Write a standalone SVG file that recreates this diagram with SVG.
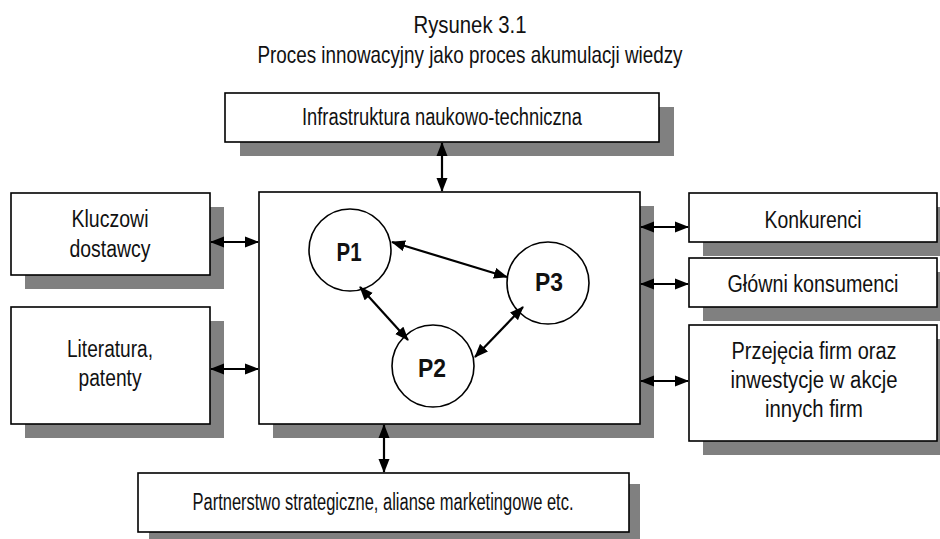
<svg xmlns="http://www.w3.org/2000/svg" width="940" height="539" viewBox="0 0 940 539">
  <style>
    .box { fill: #ffffff; stroke: #000000; stroke-width: 1.6; }
    .shadow { fill: #808080; stroke: none; }
    .circ { fill: #ffffff; stroke: #000000; stroke-width: 1.6; }
    .lbl { font-family: "Liberation Sans Narrow", "Arial Narrow", "Liberation Sans", sans-serif; font-size: 23px; fill: #111111; text-anchor: middle; }
    .ttl { font-family: "Liberation Sans Narrow", "Arial Narrow", "Liberation Sans", sans-serif; font-size: 24px; fill: #111111; text-anchor: middle; }
    .pl { font-family: "Liberation Sans Narrow", "Arial Narrow", "Liberation Sans", sans-serif; font-size: 26px; font-weight: bold; fill: #111111; text-anchor: middle; }
    .con { stroke: #000000; stroke-width: 2.2; fill: none; marker-start: url(#ah); marker-end: url(#ah); }
  </style>
  <defs>
    <marker id="ah" markerUnits="userSpaceOnUse" markerWidth="14" markerHeight="12" viewBox="0 0 14 12" refX="13" refY="6" orient="auto-start-reverse">
      <path d="M0,0.5 L14,6 L0,11.5 z" fill="#000000"/>
    </marker>
  </defs>

  <!-- title -->
  <g id="title">
    <text class="ttl" x="470" y="33" textLength="113" lengthAdjust="spacingAndGlyphs">Rysunek 3.1</text>
    <text class="ttl" x="470" y="63" textLength="425" lengthAdjust="spacingAndGlyphs">Proces innowacyjny jako proces akumulacji wiedzy</text>
  </g>

  <!-- surrounding boxes -->
  <g id="infrastruktura">
    <rect class="shadow" x="240" y="107" width="434" height="49"/>
    <rect class="box" x="225" y="93" width="434" height="49"/>
    <text class="lbl" x="442" y="125" textLength="280" lengthAdjust="spacingAndGlyphs">Infrastruktura naukowo-techniczna</text>
  </g>

  <g id="dostawcy">
    <rect class="shadow" x="25" y="207" width="199" height="82"/>
    <rect class="box" x="11" y="193" width="199" height="82"/>
    <text class="lbl" x="110" y="227" textLength="77" lengthAdjust="spacingAndGlyphs">Kluczowi</text>
    <text class="lbl" x="110" y="257" textLength="81" lengthAdjust="spacingAndGlyphs">dostawcy</text>
  </g>

  <g id="literatura">
    <rect class="shadow" x="25" y="321" width="199" height="117"/>
    <rect class="box" x="11" y="307" width="199" height="117"/>
    <text class="lbl" x="110" y="357" textLength="86" lengthAdjust="spacingAndGlyphs">Literatura,</text>
    <text class="lbl" x="110" y="386" textLength="63" lengthAdjust="spacingAndGlyphs">patenty</text>
  </g>

  <g id="konkurenci">
    <rect class="shadow" x="703" y="207" width="248" height="49"/>
    <rect class="box" x="689" y="193" width="248" height="49"/>
    <text class="lbl" x="813" y="228" textLength="97" lengthAdjust="spacingAndGlyphs">Konkurenci</text>
  </g>

  <g id="konsumenci">
    <rect class="shadow" x="703" y="272" width="248" height="49"/>
    <rect class="box" x="689" y="258" width="248" height="49"/>
    <text class="lbl" x="813" y="292" textLength="171" lengthAdjust="spacingAndGlyphs">Główni konsumenci</text>
  </g>

  <g id="przejecia">
    <rect class="shadow" x="703" y="339" width="248" height="116"/>
    <rect class="box" x="689" y="325" width="248" height="116"/>
    <text class="lbl" x="814" y="359" textLength="165" lengthAdjust="spacingAndGlyphs">Przejęcia firm oraz</text>
    <text class="lbl" x="814" y="388" textLength="167" lengthAdjust="spacingAndGlyphs">inwestycje w akcje</text>
    <text class="lbl" x="814" y="417" textLength="98" lengthAdjust="spacingAndGlyphs">innych firm</text>
  </g>

  <g id="partnerstwo">
    <rect class="shadow" x="149" y="484" width="491" height="59"/>
    <rect class="box" x="138" y="473" width="491" height="59"/>
    <text class="lbl" x="383" y="510" textLength="381" lengthAdjust="spacingAndGlyphs">Partnerstwo strategiczne, alianse marketingowe etc.</text>
  </g>

  <!-- central firm box -->
  <g id="firma">
    <rect class="shadow" x="273" y="206" width="381" height="232"/>
    <rect class="box" x="259" y="192" width="381" height="232"/>
  </g>

  <g id="p1">
    <circle class="circ" cx="350" cy="250" r="41"/>
    <text class="pl" x="349" y="261" textLength="25" lengthAdjust="spacingAndGlyphs">P1</text>
  </g>
  <g id="p2">
    <circle class="circ" cx="433" cy="366" r="41"/>
    <text class="pl" x="432" y="377" textLength="28" lengthAdjust="spacingAndGlyphs">P2</text>
  </g>
  <g id="p3">
    <circle class="circ" cx="548" cy="283" r="41"/>
    <text class="pl" x="549" y="291" textLength="28" lengthAdjust="spacingAndGlyphs">P3</text>
  </g>

  <!-- two-way connectors -->
  <g id="connectors">
    <line class="con" x1="442" y1="143" x2="442" y2="191"/>
    <line class="con" x1="384" y1="425" x2="384" y2="472"/>
    <line class="con" x1="211" y1="242" x2="258" y2="242"/>
    <line class="con" x1="211" y1="369" x2="258" y2="369"/>
    <line class="con" x1="641" y1="227" x2="688" y2="227"/>
    <line class="con" x1="641" y1="284" x2="688" y2="284"/>
    <line class="con" x1="641" y1="381" x2="688" y2="381"/>
    <line class="con" x1="392" y1="242" x2="507" y2="277"/>
    <line class="con" x1="360" y1="287" x2="408" y2="340"/>
    <line class="con" x1="475" y1="357" x2="523" y2="307"/>
  </g>
</svg>
